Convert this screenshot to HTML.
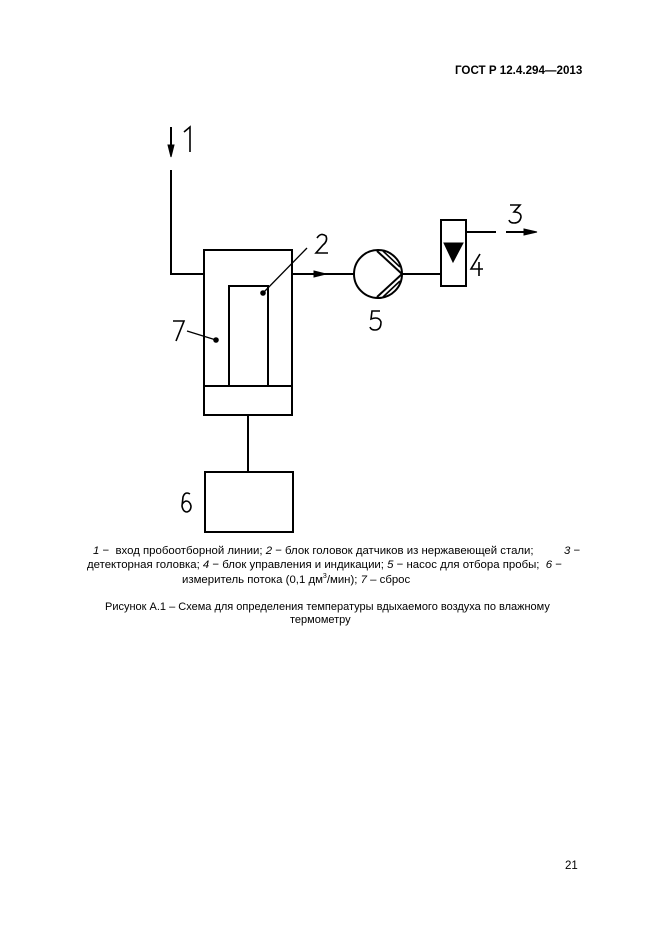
<!DOCTYPE html>
<html><head><meta charset="utf-8"><style>
body{margin:0;background:#fff;width:661px;height:935px;overflow:hidden;position:relative;font-family:"Liberation Sans",sans-serif;color:#000}
.t{position:absolute;white-space:nowrap;font-size:11.4px}
</style></head><body>
<div class="t" style="left:455px;top:64px;font-weight:bold;font-size:11.6px">ГОСТ Р 12.4.294—2013</div>
<svg width="661" height="935" style="position:absolute;left:0;top:0" fill="none" stroke="#000" stroke-width="2">
<line x1="171" y1="127" x2="171" y2="150"/><path d="M168,145 L171,157 L174,145 Z" fill="#000" stroke-width="1"/>
<polyline points="171,170 171,274 204,274"/>
<rect x="204" y="250" width="88" height="165"/>
<line x1="204" y1="386" x2="292" y2="386"/>
<polyline points="204,386 229,386 229,286 268,286 268,386 292,386"/>
<line x1="263" y1="293" x2="307" y2="248" stroke-width="1.3"/><circle cx="263" cy="293" r="1.8" fill="#000"/>
<line x1="187" y1="331" x2="216" y2="340" stroke-width="1.3"/><circle cx="216" cy="340" r="1.8" fill="#000"/>
<line x1="292" y1="274" x2="354" y2="274"/><path d="M314,271 L326,274 L314,277 Z" fill="#000" stroke-width="1"/>
<circle cx="378" cy="274" r="24"/>
<line x1="377" y1="251" x2="402" y2="274"/><line x1="377" y1="297" x2="402" y2="274"/>
<line x1="383" y1="251" x2="400" y2="267" stroke-width="1.6"/><line x1="383" y1="297" x2="400" y2="281" stroke-width="1.6"/>
<line x1="402" y1="274" x2="441" y2="274"/>
<rect x="441" y="220" width="25" height="66"/>
<path d="M444,243 L463,243 L453,262 Z" fill="#000" stroke-width="1"/>
<line x1="466" y1="232" x2="496" y2="232"/>
<line x1="506" y1="232" x2="528" y2="232"/><path d="M524,229 L537,232 L524,235 Z" fill="#000" stroke-width="1"/>
<line x1="248" y1="415" x2="248" y2="472"/>
<rect x="205" y="472" width="88" height="60"/>
<g fill="none" stroke-width="1.6">
<path d="M184,132 L190,127 L190,152"/>
<path d="M317,238 Q321,232 326,236 Q328,241 323,245 L316,253 L328,253"/>
<path d="M510,205 L520,205 L514,212 Q521,212 521,217 Q520,223 514,223 Q510,223 509,220"/>
<path d="M480,254 L471,269 L483,269 M479,262 L479,276"/>
<path d="M380,311 L372,311 L371,319 Q379,316 381,322 Q381,330 375,330 Q371,330 370,327"/>
<path d="M173,321 L184,321 L176,341"/>
<path d="M190,494 Q185,491 183,497 L182,506 Q183,512 187,512 Q191,511 191,506 Q190,501 186,501 Q183,502 182,505"/>
</g>
</svg>
<div class="t" style="left:93px;top:545px"><i>1</i> − &nbsp;вход пробоотборной линии; <i>2</i> − блок головок датчиков из нержавеющей стали;</div>
<div class="t" style="left:564px;top:545px"><i>3</i> −</div>
<div class="t" style="left:87px;top:559px">детекторная головка; <i>4</i> − блок управления и индикации; <i>5</i> − насос для отбора пробы; &nbsp;<i>6</i> −</div>
<div class="t" style="left:182px;top:573px">измеритель потока (0,1 дм<sup style="font-size:7px">3</sup>/мин); <i>7</i> – сброс</div>
<div class="t" style="left:105px;top:601px;font-size:11px">Рисунок А.1 – Схема для определения температуры вдыхаемого воздуха по влажному</div>
<div class="t" style="left:290px;top:614px;font-size:11px">термометру</div>
<div class="t" style="left:565px;top:860px;font-size:11.5px">21</div>
</body></html>
